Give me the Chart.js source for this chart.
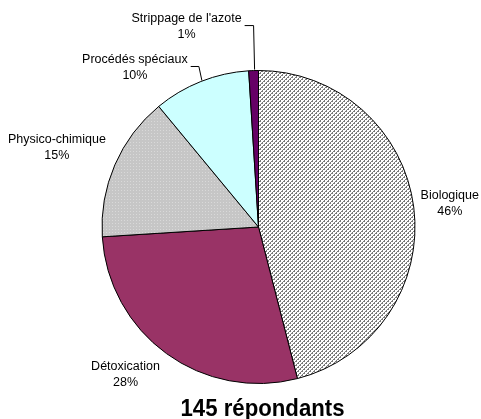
<!DOCTYPE html>
<html>
<head>
<meta charset="utf-8">
<script src="https://cdn.jsdelivr.net/npm/chart.js@4"></script>
<style>
  html, body { margin: 0; padding: 0; background: #fff; }
  canvas { display: block; }
</style>
</head>
<body>
<canvas id="pie" width="481" height="419"></canvas>
<script>
var categories = ["Biologique", "Détoxication", "Physico-chimique", "Procédés spéciaux", "Strippage de l'azote"];
var shares = [46, 28, 15, 10, 1];
var respondents = 145;

// where each label block sits, relative to the slice's outer edge at its mid angle
var labelShift = [[36, -4], [-41, 21], [-58, -17], [-66, -14], [-67, -44]];
var hasLeader = [false, false, false, true, true];

function hatchPattern() {
	var c = document.createElement("canvas");
	c.width = 4; c.height = 4;
	var g = c.getContext("2d");
	g.fillStyle = "#fff";
	g.fillRect(0, 0, 4, 4);
	g.fillStyle = "#7a7a7a";
	for (var x = 0; x < 4; x++) {
		for (var y = 0; y < 4; y++) {
			var k = (x + y) % 4;
			if (k == 0 || (k == 1 && x % 2 == 0)) g.fillRect(x, y, 1, 1);
		}
	}
	return g.createPattern(c, "repeat");
}

function dotPattern() {
	var c = document.createElement("canvas");
	c.width = 3; c.height = 3;
	var g = c.getContext("2d");
	g.fillStyle = "#c6c6c6";
	g.fillRect(0, 0, 3, 3);
	g.fillStyle = "#d9d9d9";
	g.fillRect(1, 1, 1, 1);
	return g.createPattern(c, "repeat");
}

var labelFont = "12.5px 'Liberation Sans', Arial, sans-serif";

var sliceLabels = {
	id: "sliceLabels",
	afterDatasetsDraw: function(chart) {
		var ctx = chart.ctx;
		var arcs = chart.getDatasetMeta(0).data;
		ctx.save();
		ctx.font = labelFont;
		ctx.fillStyle = "#000";
		ctx.strokeStyle = "#000";
		ctx.lineWidth = 1;
		ctx.textAlign = "center";
		ctx.textBaseline = "middle";
		arcs.forEach(function(arc, i) {
			var p = arc.getProps(["x", "y", "startAngle", "endAngle", "outerRadius"], true);
			var mid = (p.startAngle + p.endAngle) / 2;
			var ex = p.x + Math.cos(mid) * p.outerRadius;
			var ey = p.y + Math.sin(mid) * p.outerRadius;
			var cx = ex + labelShift[i][0];
			var cy = ey + labelShift[i][1];
			var l1 = categories[i];
			var l2 = shares[i] + "%";
			ctx.fillText(l1, cx, cy - 8);
			ctx.fillText(l2, cx, cy + 8);
			if (hasLeader[i]) {
				var right = cx + ctx.measureText(l1).width / 2 + 3;
				var ly = cy - 1;
				var elbowX = i == 4 ? ex : ex - 2;
				ctx.beginPath();
				ctx.moveTo(right, ly);
				ctx.lineTo(elbowX, ly);
				ctx.lineTo(ex + 1, ey - 1);
				ctx.stroke();
			}
		});
		ctx.restore();
	}
};

// condensed title under the pie, squeezed horizontally to a narrow face
var bottomTitle = {
	id: "bottomTitle",
	afterDraw: function(chart) {
		var ctx = chart.ctx;
		var area = chart.chartArea;
		var text = respondents + " répondants";
		ctx.save();
		ctx.font = "bold 24px 'Liberation Sans', Arial, sans-serif";
		ctx.fillStyle = "#000";
		ctx.textAlign = "center";
		ctx.textBaseline = "alphabetic";
		var w = ctx.measureText(text).width;
		var sx = 164 / w;
		ctx.translate((area.left + area.right) / 2 + 4, 416);
		ctx.scale(sx, 1);
		ctx.fillText(text, 0, 0);
		ctx.restore();
	}
};

new Chart("pie", {
	type: "pie",
	data: {
		labels: categories,
		datasets: [{
			data: shares,
			backgroundColor: [hatchPattern(), "#993366", dotPattern(), "#ccffff", "#660066"],
			borderColor: "#000",
			borderWidth: 1
		}]
	},
	plugins: [sliceLabels, bottomTitle],
	options: {
		responsive: false,
		devicePixelRatio: 1,
		animation: false,
		layout: {padding: {top: 70, bottom: 35, left: 101.5, right: 65.5}},
		plugins: {
			legend: {display: false},
			tooltip: {enabled: false}
		}
	}
});
</script>
</body>
</html>
